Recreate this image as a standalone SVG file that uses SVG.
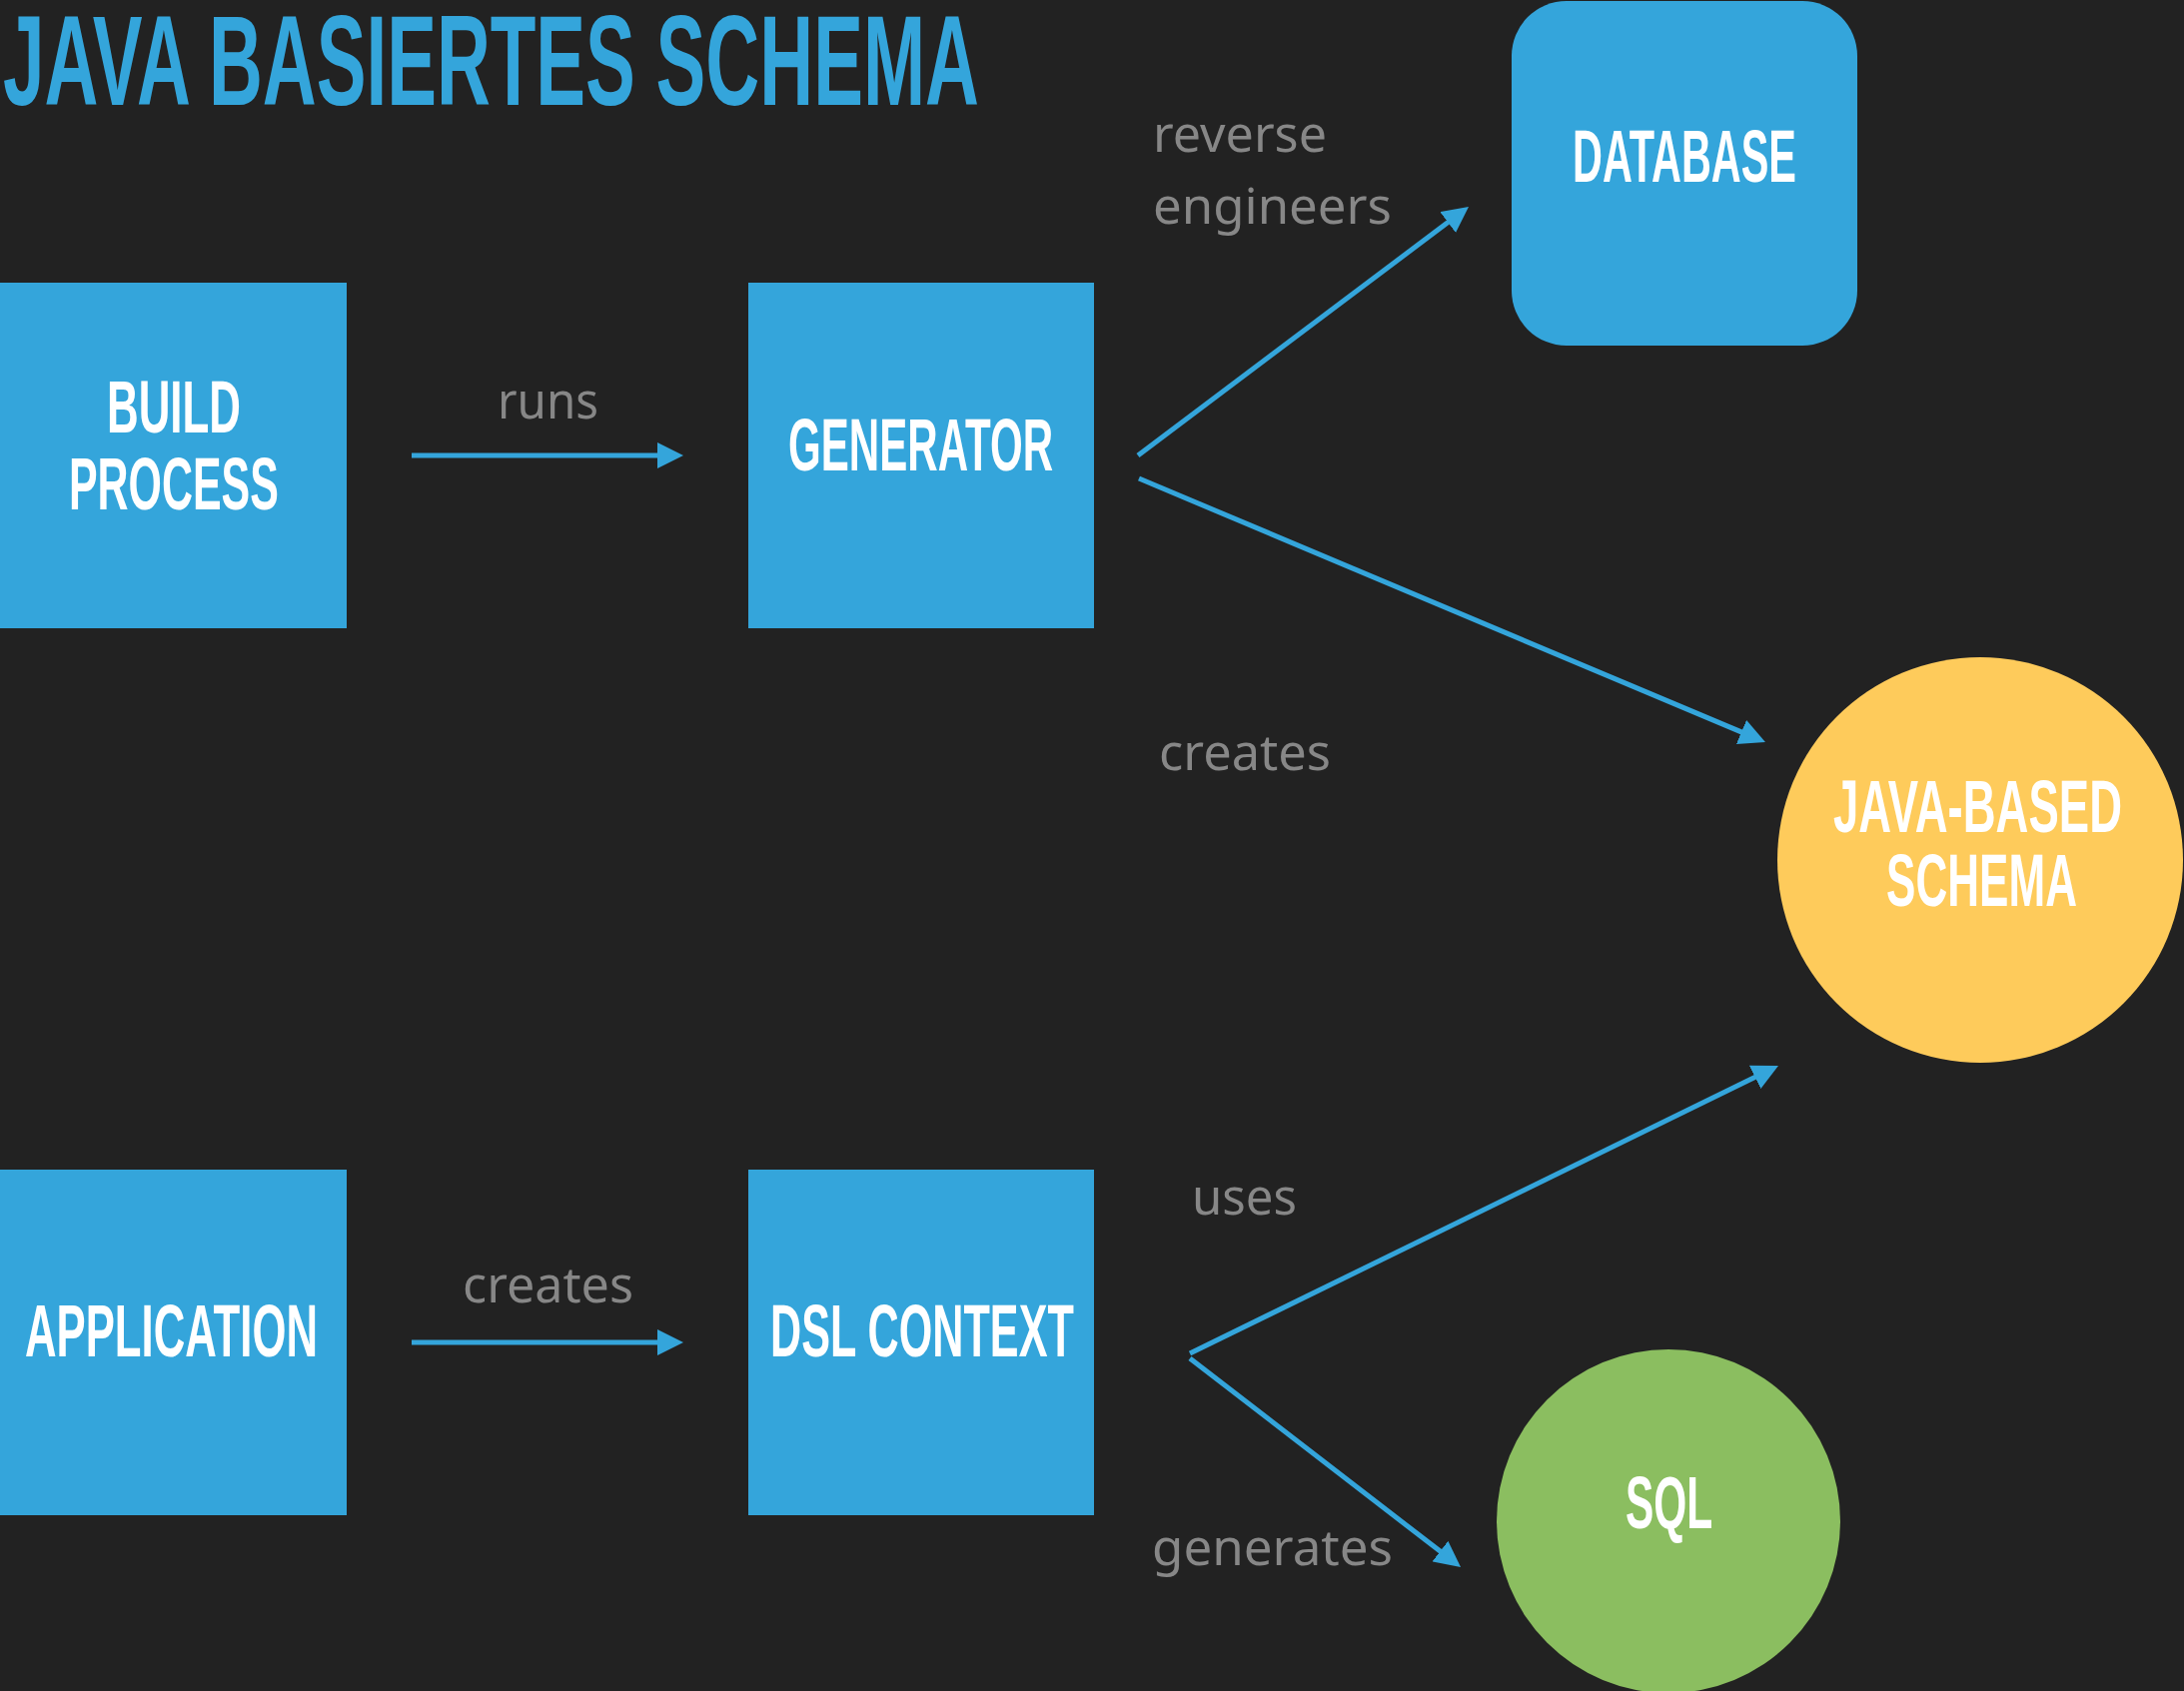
<svg xmlns="http://www.w3.org/2000/svg" width="2186" height="1693" viewBox="0 0 2186 1693">
  <style>
    .box { fill: #34a5db; }
    .node-text { font-family: "Liberation Sans", Arial, sans-serif; font-weight: bold; font-size: 75px; fill: #ffffff; }
    .label { font-family: "Noto Sans", "Open Sans", sans-serif; font-size: 50px; fill: #878787; }
    .title { font-family: "Liberation Sans", Arial, sans-serif; font-weight: bold; font-size: 128px; fill: #34a5db; }
    .conn { stroke: #34a5db; stroke-width: 5; fill: none; marker-end: url(#arrow); }
  </style>
  <defs>
    <marker id="arrow" markerUnits="userSpaceOnUse" markerWidth="28" markerHeight="26" refX="18" refY="13" orient="auto">
      <path d="M0,0 L26,13 L0,26 Z" fill="#34a5db"/>
    </marker>
  </defs>

  <rect x="0" y="0" width="2186" height="1693" fill="#222222"/>

  <!-- condensed headings: bold sans squeezed horizontally -->
  <text class="title" transform="translate(3,105) scale(0.575,1)" x="0" y="0" textLength="1699" lengthAdjust="spacingAndGlyphs">JAVA BASIERTES SCHEMA</text>

  <g id="build-process">
    <rect class="box" x="0" y="283" width="347" height="346"/>
    <text class="node-text" transform="translate(107,433) scale(0.57,1)" textLength="235" lengthAdjust="spacingAndGlyphs">BUILD</text>
    <text class="node-text" transform="translate(69,510) scale(0.57,1)" textLength="368" lengthAdjust="spacingAndGlyphs">PROCESS</text>
  </g>

  <g id="generator">
    <rect class="box" x="749" y="283" width="346" height="346"/>
    <text class="node-text" transform="translate(789,471) scale(0.57,1)" textLength="465" lengthAdjust="spacingAndGlyphs">GENERATOR</text>
  </g>

  <g id="database">
    <rect class="box" x="1513" y="1" width="346" height="345" rx="55" ry="55"/>
    <text class="node-text" transform="translate(1574,182) scale(0.57,1)" textLength="393" lengthAdjust="spacingAndGlyphs">DATABASE</text>
  </g>

  <g id="java-based-schema">
    <circle cx="1982" cy="861" r="203" fill="#fecb5b"/>
    <text class="node-text" transform="translate(1835,833) scale(0.57,1)" textLength="507" lengthAdjust="spacingAndGlyphs">JAVA-BASED</text>
    <text class="node-text" transform="translate(1888,907) scale(0.57,1)" textLength="335" lengthAdjust="spacingAndGlyphs">SCHEMA</text>
  </g>

  <g id="application">
    <rect class="box" x="0" y="1171" width="347" height="346"/>
    <text class="node-text" transform="translate(25,1358) scale(0.57,1)" textLength="514" lengthAdjust="spacingAndGlyphs">APPLICATION</text>
  </g>

  <g id="dsl-context">
    <rect class="box" x="749" y="1171" width="346" height="346"/>
    <text class="node-text" transform="translate(771,1358) scale(0.57,1)" textLength="533" lengthAdjust="spacingAndGlyphs">DSL CONTEXT</text>
  </g>

  <g id="sql">
    <circle cx="1670" cy="1523" r="172" fill="#8bbe60"/>
    <text class="node-text" transform="translate(1627,1530) scale(0.57,1)" textLength="153" lengthAdjust="spacingAndGlyphs">SQL</text>
  </g>

  <g id="connectors">
    <line class="conn" x1="412" y1="456" x2="676" y2="456"/>
    <line class="conn" x1="1139" y1="456" x2="1463.6" y2="211.8"/>
    <line class="conn" x1="1140" y1="479" x2="1759.6" y2="739.9"/>
    <line class="conn" x1="412" y1="1344" x2="676" y2="1344"/>
    <line class="conn" x1="1191" y1="1355" x2="1772.8" y2="1070.5"/>
    <line class="conn" x1="1191" y1="1360" x2="1455.7" y2="1564.1"/>

    <text class="label" x="498" y="419" textLength="101" lengthAdjust="spacingAndGlyphs">runs</text>
    <text class="label" x="1154" y="152" textLength="174" lengthAdjust="spacingAndGlyphs">reverse</text>
    <text class="label" x="1154" y="224" textLength="239" lengthAdjust="spacingAndGlyphs">engineers</text>
    <text class="label" x="1160" y="771" textLength="172" lengthAdjust="spacingAndGlyphs">creates</text>
    <text class="label" x="463" y="1304" textLength="171" lengthAdjust="spacingAndGlyphs">creates</text>
    <text class="label" x="1193" y="1216" textLength="105" lengthAdjust="spacingAndGlyphs">uses</text>
    <text class="label" x="1153" y="1567" textLength="241" lengthAdjust="spacingAndGlyphs">generates</text>
  </g>
</svg>
